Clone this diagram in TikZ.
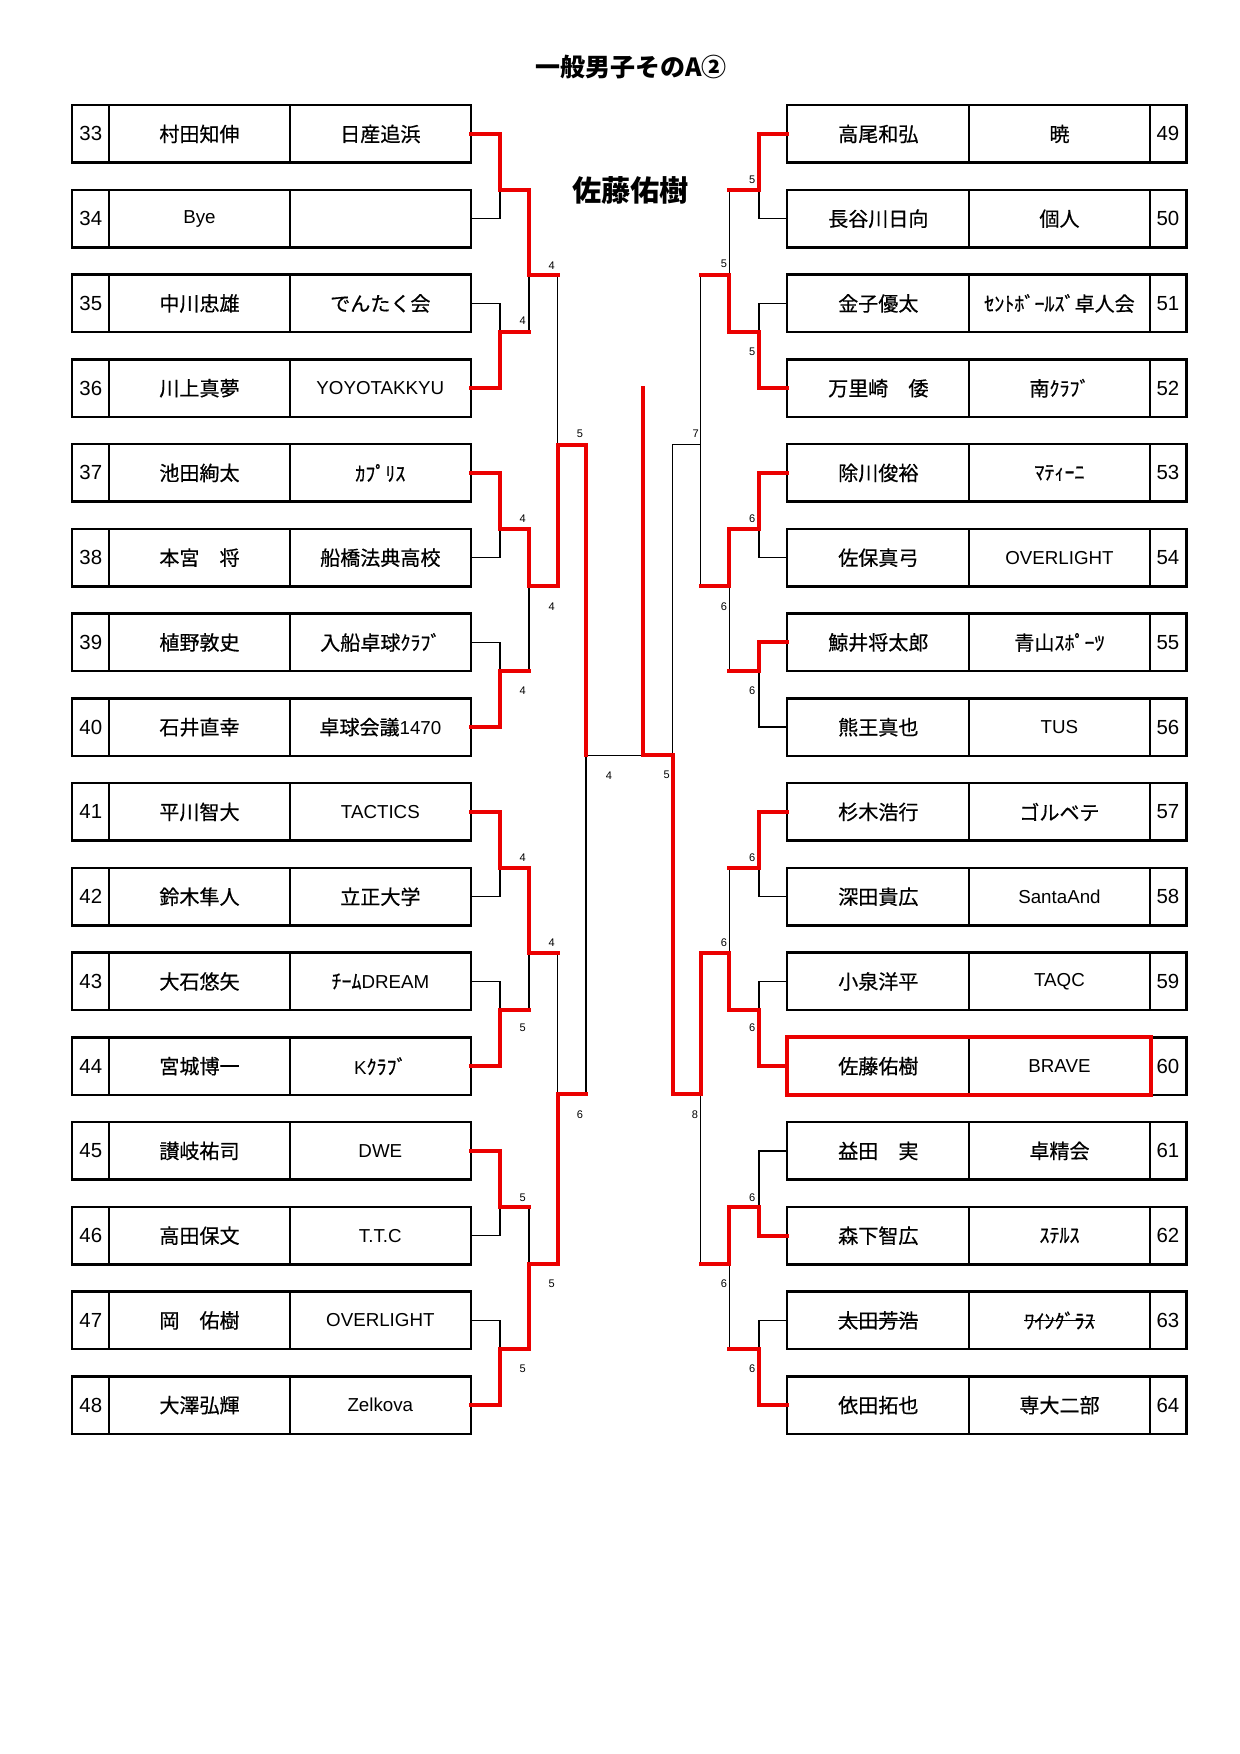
\documentclass[tikz,border=0pt]{standalone}
\usepackage{fontspec}
\setmainfont{Liberation Sans}
\newfontfamily\jp[Scale=1.07,FakeBold=0.5]{Noto Sans CJK JP}
\newfontfamily\jpt{Noto Sans CJK JP}
\definecolor{wred}{RGB}{235,0,0}
\newsavebox\mystrikebox
\newcommand\mystrike[1]{\sbox\mystrikebox{#1}\rlap{\rule[0.36em]{\wd\mystrikebox}{0.5pt}}\usebox\mystrikebox}
\begin{document}
\begin{tikzpicture}[x=0.48pt,y=-13.56pt,
  cell/.style={draw,line width=0.72pt,inner sep=0pt,minimum height=27.12pt,anchor=center,font=\fontsize{9}{10}\selectfont},
  numl/.style={cell,minimum width=17.42pt,font=\fontsize{9.8}{10}\selectfont},
  namel/.style={cell,minimum width=86.88pt},
  teaml/.style={cell,minimum width=86.74pt},
  namer/.style={cell,minimum width=87.02pt},
  teamr/.style={cell,minimum width=86.88pt},
  numr/.style={cell,minimum width=17.28pt,font=\fontsize{9.8}{10}\selectfont},
  frame/.style={line width=0.96pt},
  blk/.style={line width=0.72pt,black},
  win/.style={line width=1.92pt,wred,line cap=rect,line join=miter},
  sc/.style={font=\fontsize{5.3}{6}\selectfont,inner sep=0pt}]
\useasboundingbox (0,-3.7416) rectangle (1240,58.347);
% titles
\node (title) at (631,-1.352) {\jpt\bfseries\fontsize{12}{14}\selectfont 一般男子そのA②};
\node (champ) at (630.5,2.984) {\jpt\bfseries\fontsize{14}{16}\selectfont 佐藤佑樹};
% left entries
\foreach \k/\nm/\tm in {0/{\jp 村田知伸}/{\jp 日産追浜},
 1/Bye/{},
 2/{\jp 中川忠雄}/{\jp でんたく会},
 3/{\jp 川上真夢}/YOYOTAKKYU,
 4/{\jp 池田絢太}/{\jp ｶﾌﾟﾘｽ},
 5/{\jp 本宮　将}/{\jp 船橋法典高校},
 6/{\jp 植野敦史}/{\jp 入船卓球ｸﾗﾌﾞ},
 7/{\jp 石井直幸}/{{\jp 卓球会議}1470},
 8/{\jp 平川智大}/TACTICS,
 9/{\jp 鈴木隼人}/{\jp 立正大学},
 10/{\jp 大石悠矢}/{{\jp ﾁｰﾑ}DREAM},
 11/{\jp 宮城博一}/{K{\jp ｸﾗﾌﾞ}},
 12/{\jp 讃岐祐司}/DWE,
 13/{\jp 高田保文}/T.T.C,
 14/{\jp 岡　佑樹}/OVERLIGHT,
 15/{\jp 大澤弘輝}/Zelkova}{
  \pgfmathtruncatemacro\n{33+\k}
  \pgfmathsetmacro\r{3*\k+1}
  \node[numl] (Ln\n) at (90.85,\r) {\n};
  \node[namel] (Lm\n) at (199.5,\r) {\nm};
  \node[teaml] (Lt\n) at (380.35,\r) {\tm};
  \draw[frame] (Ln\n.north west) rectangle (Lt\n.south east);
}
% right entries
\foreach \k/\nm/\tm in {0/{\jp 高尾和弘}/{\jp 暁},
 1/{\jp 長谷川日向}/{\jp 個人},
 2/{\jp 金子優太}/{\jp ｾﾝﾄﾎﾞｰﾙｽﾞ卓人会},
 3/{\jp 万里崎　倭}/{\jp 南ｸﾗﾌﾞ},
 4/{\jp 除川俊裕}/{\jp ﾏﾃｨｰﾆ},
 5/{\jp 佐保真弓}/OVERLIGHT,
 6/{\jp 鯨井将太郎}/{\jp 青山ｽﾎﾟｰﾂ},
 7/{\jp 熊王真也}/TUS,
 8/{\jp 杉木浩行}/{\jp ゴルベテ},
 9/{\jp 深田貴広}/SantaAnd,
 10/{\jp 小泉洋平}/TAQC,
 11/{\jp 佐藤佑樹}/BRAVE,
 12/{\jp 益田　実}/{\jp 卓精会},
 13/{\jp 森下智広}/{\jp ｽﾃﾙｽ},
 14/{\jp\mystrike{太田芳浩}}/{\jp\mystrike{ﾜｲﾝｸﾞﾗｽ}},
 15/{\jp 依田拓也}/{\jp 専大二部}}{
  \pgfmathtruncatemacro\n{49+\k}
  \pgfmathsetmacro\r{3*\k+1}
  \node[namer] (Rm\n) at (878.35,\r) {\nm};
  \node[teamr] (Rt\n) at (1059.5,\r) {\tm};
  \node[numr] (Rn\n) at (1168,\r) {\n};
  \draw[frame] (Rm\n.north west) rectangle (Rn\n.south east);
}
% junction coordinates
\foreach \i/\rr in {1/3,2/8,3/15,4/20,5/27,6/32,7/39,8/44}{
  \coordinate (LA\i) at (500,\rr);
  \coordinate (RA\i) at (759,\rr);
}
\foreach \i/\rr in {1/6,2/17,3/30,4/41}{
  \coordinate (LB\i) at (529,\rr);
  \coordinate (RB\i) at (729.3,\rr);
}
\coordinate (LC1) at (557.7,12); \coordinate (LC2) at (557.7,35);
\coordinate (RC1) at (700.7,12); \coordinate (RC2) at (700.7,35);
\coordinate (LD) at (586,23); \coordinate (RD) at (672.7,23);
\coordinate (CT) at (643.3,23); \coordinate (CTop) at (643.3,10);
% black bracket
\foreach \i in {1,...,8}{
  \pgfmathtruncatemacro\a{33+2*(\i-1)}
  \pgfmathtruncatemacro\b{\a+1}
  \pgfmathtruncatemacro\c{49+2*(\i-1)}
  \pgfmathtruncatemacro\d{\c+1}
  \draw[blk] (Lt\a.east) -| (LA\i) |- (Lt\b.east);
  \draw[blk] (Rm\c.west) -| (RA\i) |- (Rm\d.west);
}
\foreach \j in {1,...,4}{
  \pgfmathtruncatemacro\p{2*\j-1}
  \pgfmathtruncatemacro\q{2*\j}
  \draw[blk] (LA\p) -| (LB\j) |- (LA\q);
  \draw[blk] (RA\p) -| (RB\j) |- (RA\q);
}
\draw[blk] (LB1) -| (LC1) |- (LB2);
\draw[blk] (LB3) -| (LC2) |- (LB4);
\draw[blk] (RB1) -| (RC1) |- (RB2);
\draw[blk] (RB3) -| (RC2) |- (RB4);
\draw[blk] (LC1) -| (LD) |- (LC2);
\draw[blk] (RC1) -| (RD) |- (RC2);
\draw[blk] (LD) -- (CT) -- (RD);
% winners, left
\draw[win] (Lt33.east) -| (LA1) -| (LB1) -- (LB1 -| LC1);
\draw[win] (Lt36.east) -| (LA2) -- (LA2 -| LB1);
\draw[win] (Lt37.east) -| (LA3) -| (LB2) -| (LC1) -| (LD);
\draw[win] (Lt40.east) -| (LA4) -- (LA4 -| LB2);
\draw[win] (Lt41.east) -| (LA5) -| (LB3) -- (LB3 -| LC2);
\draw[win] (Lt44.east) -| (LA6) -- (LA6 -| LB3);
\draw[win] (Lt45.east) -| (LA7) -- (LA7 -| LB4);
\draw[win] (Lt48.east) -| (LA8) -| (LB4) -| (LC2) -- (LC2 -| LD);
% winners, right
\draw[win] (Rm49.west) -| (RA1) -- (RA1 -| RB1);
\draw[win] (Rm52.west) -| (RA2) -| (RB1) -- (RB1 -| RC1);
\draw[win] (Rm53.west) -| (RA3) -| (RB2) -- (RB2 -| RC1);
\draw[win] (Rm55.west) -| (RA4) -- (RA4 -| RB2);
\draw[win] (Rm57.west) -| (RA5) -- (RA5 -| RB3);
\draw[win] (Rm60.west) -| (RA6) -| (RB3) -| (RC2) -| (RD) -- (CT) -- (CTop);
\draw[win] (Rm62.west) -| (RA7) -| (RB4) -- (RB4 -| RC2);
\draw[win] (Rm64.west) -| (RA8) -- (RA8 -| RB4);
\draw[win,line cap=butt] (Rm60.north west) rectangle (Rt60.south east);
% scores
\foreach \x/\y/\s [count=\c] in {522.7/7.62/4,522.7/14.62/4,522.7/20.72/4,522.7/26.63/4,
  522.7/32.65/5,522.7/38.64/5,522.7/44.72/5,551.7/5.65/4,551.7/17.72/4,551.7/29.63/4,
  551.7/41.71/5,580/11.6/5,580/35.7/6,609/23.7/4,
  752.3/2.63/5,752.3/8.71/5,752.3/14.62/6,752.3/20.72/6,752.3/26.63/6,752.3/32.65/6,
  752.3/38.64/6,752.3/44.72/6,724/5.6/5,724/17.72/6,724/29.63/6,724/41.71/6,
  695.7/11.6/7,695/35.7/8,666.7/23.7/5}{
  \node[sc] (sc\c) at (\x,\y) {\s};
}
\end{tikzpicture}
\end{document}
